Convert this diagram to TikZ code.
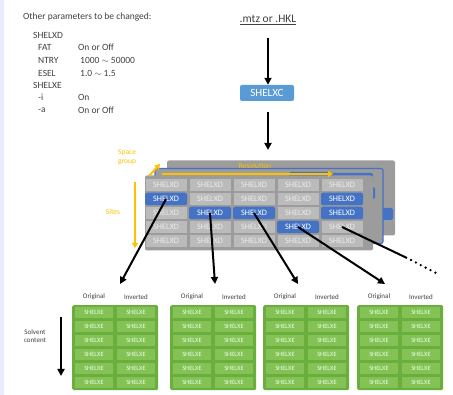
\documentclass[tikz,border=0pt]{standalone}
\usepackage{fontspec}
\setmainfont{Carlito}
\usetikzlibrary{arrows.meta,calc}
\definecolor{txtgray}{HTML}{404040}
\definecolor{layergray}{HTML}{9C9C9C}
\definecolor{cellgray}{HTML}{BBBBBB}
\definecolor{cellblue}{HTML}{4472C4}
\definecolor{boxblue}{HTML}{5B9BD5}
\definecolor{grpgreen}{HTML}{6AAE3E}
\definecolor{cellgreen}{HTML}{84C255}
\definecolor{yel}{HTML}{FFC000}
\begin{document}
\begin{tikzpicture}[x=1pt,y=-1pt,
  ptxt/.style={font=\fontsize{9.5}{10}\selectfont, text=txtgray, inner sep=0pt, anchor=west},
  graycell/.style={fill=cellgray, minimum width=41pt, minimum height=11.5pt, inner sep=0pt,
    font=\fontsize{8.3}{8.3}\selectfont, text=white!85!gray},
  bluecell/.style={fill=cellblue, rounded corners=2pt, minimum width=42pt, minimum height=12.5pt, inner sep=0pt,
    font=\fontsize{8.3}{8.3}\selectfont, text=white},
  backblue/.style={fill=cellblue, rounded corners=2pt, minimum width=42pt, minimum height=12pt, inner sep=0pt},
  greencell/.style={fill=cellgreen, minimum width=38pt, minimum height=11.5pt, inner sep=0pt,
    font=\fontsize{6.5}{6.5}\selectfont, text=white!90!green},
  grp/.style={fill=grpgreen, rounded corners=1.5pt, minimum width=86pt, minimum height=85pt, inner sep=0pt},
  hdr/.style={font=\fontsize{7}{8}\selectfont, text=txtgray, inner sep=0pt},
  bigarrow/.style={line width=2pt, -{Triangle[length=7pt,width=7pt]}},
  yarrow/.style={draw=yel, line width=2pt, -{Triangle[length=5pt,width=6pt]}},
  ylab/.style={text=yel, font=\fontsize{7.5}{8.5}\selectfont, inner sep=0pt},
  layer/.style={rounded corners=2pt, minimum width=228pt, minimum height=75pt, inner sep=0pt}
]
\useasboundingbox (0,0) rectangle (453,395);
\fill[blue!8] (0,0) rectangle (4,395);

% parameter text
\node[ptxt] (p0) at (23,17) {Other parameters to be changed:};
\node[ptxt] (p1) at (33,35) {SHELXD};
\node[ptxt] (p2) at (38,47) {FAT};
\node[ptxt] (p2v) at (78,47) {On or Off};
\node[ptxt] (p3) at (38,60) {NTRY};
\node[ptxt] (p3v) at (80,60) {1000 $\sim$ 50000};
\node[ptxt] (p4) at (38,73) {ESEL};
\node[ptxt] (p4v) at (80,73) {1.0 $\sim$ 1.5};
\node[ptxt] (p5) at (33,85) {SHELXE};
\node[ptxt] (p6) at (38,97) {-i};
\node[ptxt] (p6v) at (78,97) {On};
\node[ptxt] (p7) at (38,110) {-a};
\node[ptxt] (p7v) at (78,110) {On or Off};

% input and SHELXC
\node[font=\fontsize{11.5}{12}\selectfont, text=txtgray, inner sep=1pt] (in) at (268,20) {\underline{.mtz or .HKL}};
\node[fill=boxblue, rounded corners=2pt, minimum width=54pt, minimum height=16pt, inner sep=0pt,
  font=\fontsize{11}{11}\selectfont, text=white] (shelxc) at (267,93) {SHELXC};
\coordinate (inbot) at (268,38);
\coordinate (cbot) at (268,112);
\coordinate (stacktop) at (268,150);
\draw[bigarrow] (inbot) -- (inbot |- shelxc.north);
\draw[bigarrow] (cbot) -- (stacktop);

% stacked layers
\node[layer, fill=layergray] (layer3) at (281,198) {};
\node[backblue] (bb1) at (372,214) {};
\node[layer, fill=layergray, draw=cellblue, line width=1.2pt] (layer2) at (269,206) {};
\node[backblue] (bb2) at (310,178) {};
\node[backblue] (bb3) at (352,179) {};
\node[backblue] (bb4) at (354,193) {};
\node[layer, fill=layergray] (layer1) at (259,213) {};

% grid cells
\foreach \r/\yy in {1/185,2/199,3/213,4/227,5/241}{
  \foreach \c/\xx in {1/166,2/210,3/254,4/298,5/342}{
    \ifnum\r\c=21 \else\ifnum\r\c=25 \else\ifnum\r\c=32 \else\ifnum\r\c=33 \else\ifnum\r\c=35 \else\ifnum\r\c=44 \else
      \node[graycell] (g\r\c) at (\xx,\yy) {SHELXD};
    \fi\fi\fi\fi\fi\fi
  }
}
\node[bluecell] (b21) at (166,199) {SHELXD};
\node[bluecell] (b25) at (342,199) {SHELXD};
\node[bluecell] (b32) at (210,213) {SHELXD};
\node[bluecell] (b33) at (254,213) {SHELXD};
\node[bluecell] (b35) at (342,213) {SHELXD};
\node[bluecell] (b44) at (298,227) {SHELXD};

% yellow annotations
\node[ylab, align=left, anchor=west] (sg) at (118,157) {Space\\group};
\coordinate (sgA) at (149,176);
\coordinate (sgB) at (160,164);
\draw[yarrow] (sgA) -- (sgB);
\coordinate (resA) at (162,174);
\coordinate (resB) at (333,174);
\draw[yarrow] (resA) -- (resB);
\node[ylab] (res) at (255,166) {Resolution};
\coordinate (sitA) at (135,182);
\coordinate (sitB) at (135,248);
\draw[yarrow] (sitA) -- (sitB);
\node[ylab] (sites) at (113,212) {Sites};

% green groups
\foreach \i/\L in {1/72,2/170,3/263,4/357}{
  \node[grp, anchor=north west] (grp\i) at (\L,305) {};
  \node[hdr] (o\i) at (\L+22,297) {Original};
  \node[hdr] (v\i) at (\L+64,297) {Inverted};
  \foreach \r/\yy in {1/312.5,2/326.5,3/340.5,4/354.5,5/368.5,6/382.5}{
    \node[greencell] (e\i\r a) at (\L+22,\yy) {SHELXE};
    \node[greencell] (e\i\r b) at (\L+64,\yy) {SHELXE};
  }
}

% arrows from selected cells
\coordinate (t1) at (120,284);
\coordinate (t2) at (215,284);
\coordinate (t3) at (298,284);
\coordinate (t4) at (385,284);
\draw[bigarrow] (b21.center) -- (t1);
\draw[bigarrow] (b32.center) -- (t2);
\draw[bigarrow] (b33.center) -- (t3);
\draw[bigarrow] (b44.center) -- (t4);
\coordinate (dotA) at (407,258);
\coordinate (dotA2) at (411,260);
\coordinate (dotB) at (436,273);
\draw[line width=2pt] (g45.center) -- (dotA);
\draw[line width=2.6pt, line cap=round, dash pattern=on 0pt off 5.5pt] (dotA2) -- (dotB);

% solvent content
\node[hdr, align=center] (solv) at (35,336) {Solvent\\content};
\coordinate (sA) at (61,317);
\coordinate (sB) at (61,376);
\draw[bigarrow] (sA) -- (sB);
\end{tikzpicture}
\end{document}
